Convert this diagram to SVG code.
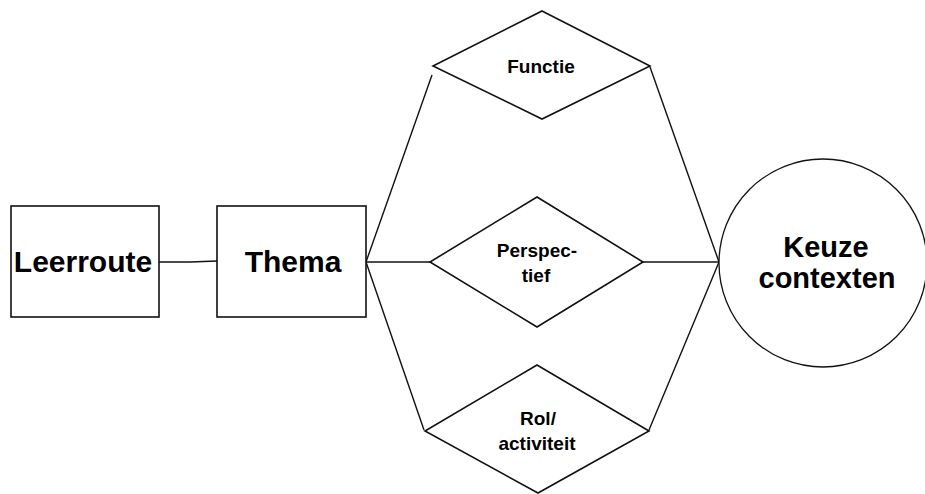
<svg xmlns="http://www.w3.org/2000/svg" width="925" height="494" viewBox="0 0 925 494">
<style>
.s{fill:#fff;stroke:#111;stroke-width:1.6}
.c{fill:none;stroke:#111;stroke-width:1.4}
.t{font-family:"Liberation Sans",Arial,sans-serif;font-weight:bold;fill:#000;text-anchor:middle}
.big{font-size:30px}
.sm{font-size:19px}
</style>
<rect width="925" height="494" fill="#fff"/>
<g id="connectors">
<polyline class="c" points="159,262 190,262 217,261"/>
<line class="c" x1="366" y1="262" x2="430" y2="262"/>
<line class="c" x1="643" y1="262" x2="719" y2="262"/>
<line class="c" x1="366" y1="262" x2="432" y2="75"/>
<line class="c" x1="366" y1="262" x2="424" y2="430"/>
<line class="c" x1="650" y1="67" x2="719" y2="262"/>
<line class="c" x1="649" y1="430" x2="719" y2="262"/>
</g>
<g id="leerroute">
<rect class="s" x="11" y="206" width="148" height="111"/>
<text class="t big" x="83" y="272">Leerroute</text>
</g>
<g id="thema">
<rect class="s" x="217" y="206" width="149" height="111"/>
<text class="t big" x="293" y="272">Thema</text>
</g>
<g id="functie">
<polygon class="s" points="542,11 650,66 542,119 433,66"/>
<text class="t sm" x="541" y="73">Functie</text>
</g>
<g id="perspectief">
<polygon class="s" points="537,197 643,262 537,327 430,262"/>
<text class="t sm" x="537" y="257">Perspec-</text>
<text class="t sm" x="536" y="282">tief</text>
</g>
<g id="rol">
<polygon class="s" points="537,365 649,431 538,493 425,431"/>
<text class="t sm" x="538" y="425">Rol/</text>
<text class="t sm" x="537" y="450">activiteit</text>
</g>
<g id="keuze">
<ellipse class="s" cx="823" cy="263" rx="104" ry="104" style="stroke-width:1.3"/>
<text class="t" style="font-size:29px" x="826" y="257">Keuze</text>
<text class="t" style="font-size:29px" x="827" y="288">contexten</text>
</g>
</svg>
